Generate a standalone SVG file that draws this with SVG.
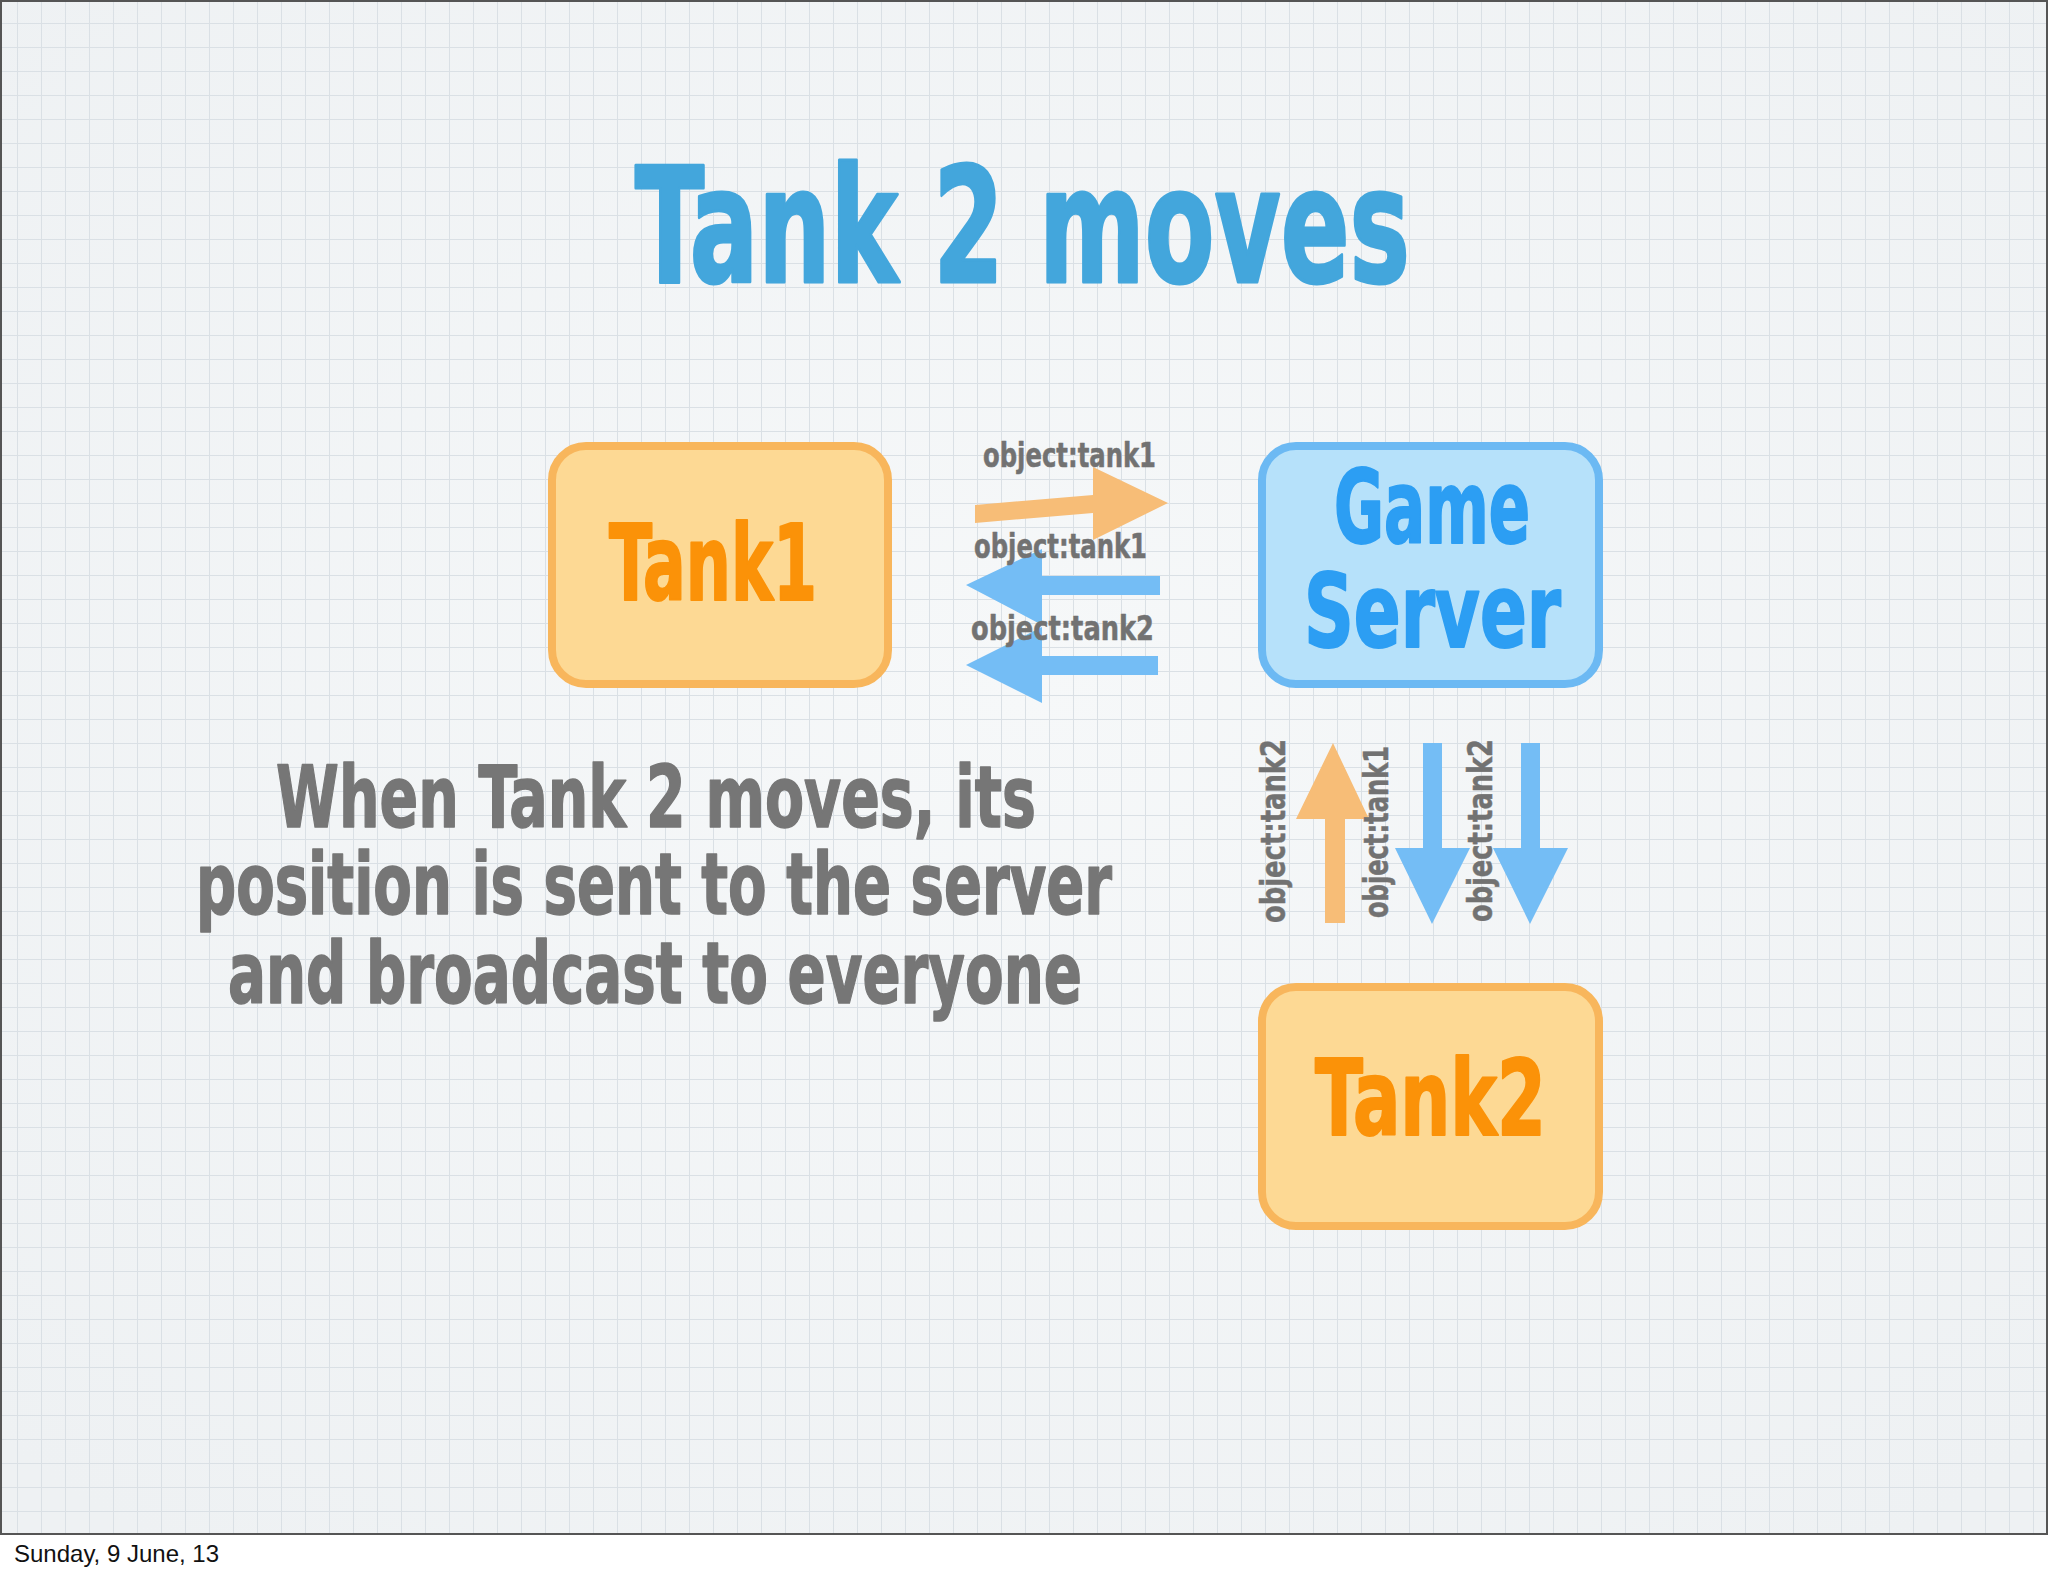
<svg xmlns="http://www.w3.org/2000/svg" width="2048" height="1576" viewBox="0 0 2048 1576">
  <defs>
    <pattern id="grid" patternUnits="userSpaceOnUse" x="17" y="23" width="24" height="24">
      <path d="M0 0V24M0 0H24" fill="none" stroke="#dae0e5" stroke-width="2"/>
    </pattern>
    <radialGradient id="bg" cx="50%" cy="45%" r="70%">
      <stop offset="0" stop-color="#f6f8f9"/>
      <stop offset="1" stop-color="#eef1f3"/>
    </radialGradient>
    <style>
      .hand { font-family: "Liberation Sans Narrow", "DejaVu Sans Condensed", "Liberation Sans", sans-serif; font-weight: bold; stroke-linejoin: round; stroke-linecap: round; }
      .title { fill: #43a6dc; stroke: #43a6dc; stroke-width: 3; font-size: 160px; }
      .body { fill: #767676; stroke: #767676; stroke-width: 1.5; font-size: 86px; }
      .lbl { fill: #727272; stroke: #727272; stroke-width: 0.5; font-size: 34px; }
      .orangeBox { fill: #fdd994; stroke: #f8b65c; stroke-width: 8; }
      .blueBox { fill: #b6e1fa; stroke: #6cb9f3; stroke-width: 8; }
      .orangeTxt { fill: #fb9208; stroke: #fb9208; stroke-width: 2; font-size: 106px; }
      .blueTxt { fill: #2c9ef3; stroke: #2c9ef3; stroke-width: 2; font-size: 102px; }
      .arrO { fill: #f7bd77; }
      .arrB { fill: #74bdf5; }
    </style>
  </defs>

  <!-- page -->
  <rect x="0" y="0" width="2048" height="1576" fill="#ffffff"/>
  <rect x="0" y="0" width="2048" height="1535" fill="url(#bg)"/>
  <rect x="0" y="0" width="2048" height="1535" fill="url(#grid)"/>
  <rect x="1" y="1" width="2046" height="1533" fill="none" stroke="#555555" stroke-width="2"/>

  <!-- title -->
  <text class="hand title" x="635" y="282" textLength="775" lengthAdjust="spacingAndGlyphs">Tank 2 moves</text>

  <!-- nodes -->
  <g id="tank1">
    <rect class="orangeBox" x="552" y="446" width="336" height="238" rx="34"/>
    <text class="hand orangeTxt" x="609" y="600" textLength="208" lengthAdjust="spacingAndGlyphs">Tank1</text>
  </g>
  <g id="game-server">
    <rect class="blueBox" x="1262" y="446" width="337" height="238" rx="34"/>
    <text class="hand blueTxt" x="1334" y="543" textLength="196" lengthAdjust="spacingAndGlyphs">Game</text>
    <text class="hand blueTxt" x="1304" y="647" textLength="257" lengthAdjust="spacingAndGlyphs">Server</text>
  </g>
  <g id="tank2">
    <rect class="orangeBox" x="1262" y="987" width="337" height="239" rx="34"/>
    <text class="hand orangeTxt" x="1315" y="1135" textLength="231" lengthAdjust="spacingAndGlyphs">Tank2</text>
  </g>

  <!-- connectors -->
  <g id="connectors">
    <polygon class="arrO" points="975,505 1093,495 1093,467 1168,503 1093,540 1093,513 975,523"/>
    <polygon class="arrB" points="1160,576 1042,576 1042,549 966,585 1042,625 1042,595 1160,595"/>
    <polygon class="arrB" points="1158,656 1042,656 1042,627 966,665 1042,703 1042,675 1158,675"/>
    <polygon class="arrO" points="1325,923 1325,819 1296,819 1333,743 1369,819 1345,819 1345,923"/>
    <polygon class="arrB" points="1423,743 1442,743 1442,848 1470,848 1432,924 1395,848 1423,848"/>
    <polygon class="arrB" points="1521,743 1540,743 1540,848 1568,848 1530,924 1493,848 1521,848"/>
  </g>

  <!-- connector labels -->
  <g id="labels">
    <text class="hand lbl" x="983" y="467" textLength="173" lengthAdjust="spacingAndGlyphs">object:tank1</text>
    <text class="hand lbl" x="974" y="558" textLength="173" lengthAdjust="spacingAndGlyphs">object:tank1</text>
    <text class="hand lbl" x="971" y="640" textLength="183" lengthAdjust="spacingAndGlyphs">object:tank2</text>
    <text class="hand lbl" transform="translate(1285,923) rotate(-90)" x="0" y="0" textLength="184" lengthAdjust="spacingAndGlyphs">object:tank2</text>
    <text class="hand lbl" transform="translate(1388,918) rotate(-90)" x="0" y="0" textLength="172" lengthAdjust="spacingAndGlyphs">object:tank1</text>
    <text class="hand lbl" transform="translate(1492,922) rotate(-90)" x="0" y="0" textLength="183" lengthAdjust="spacingAndGlyphs">object:tank2</text>
  </g>

  <!-- description -->
  <g id="description">
    <text class="hand body" x="276" y="827" textLength="760" lengthAdjust="spacingAndGlyphs">When Tank 2 moves, its</text>
    <text class="hand body" x="196" y="914" textLength="916" lengthAdjust="spacingAndGlyphs">position is sent to the server</text>
    <text class="hand body" x="228" y="1003" textLength="854" lengthAdjust="spacingAndGlyphs">and broadcast to everyone</text>
  </g>

  <!-- footer -->
  <text x="14" y="1562" font-family="Liberation Sans, Arial, sans-serif" font-size="24" fill="#111111">Sunday, 9 June, 13</text>
</svg>
